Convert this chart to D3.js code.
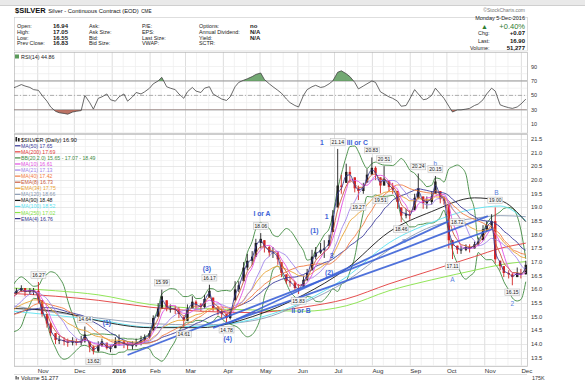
<!DOCTYPE html>
<html><head><meta charset="utf-8">
<script src="https://cdn.jsdelivr.net/npm/d3@7"></script>
<style>body{margin:0;background:#fff}svg{display:block;font-family:"Liberation Sans",Arial,sans-serif}</style>
</head><body><svg id="c" width="585" height="380"></svg>
<script>
// ---------------- DATA ----------------
// half-week bars (Mon & Thu) starting 2015-10-12
const firstMonday = "2015-10-12";
const priorCloses = [14.65,14.75,14.85,15.25,15.45,15.3,15.15,14.65,14.6,14.5,14.6,14.85,15.1,15.05,14.85,14.75,14.95,15.4,15.65,15.85];
const closes = [15.85,15.95,16.05,15.9,15.95,15.95,15.6,15.1,14.75,14.4,14.15,14.15,14.1,14.05,14.1,14.05,14.1,14.35,13.9,13.75,
13.95,14.1,13.85,13.85,14.1,14.1,14.0,13.95,13.95,14.05,14.15,14.25,14.4,14.95,15.3,15.75,15.3,15.3,15.25,15.1,
14.85,15.3,15.55,15.45,15.35,15.65,15.95,15.3,15.2,15.1,14.95,15.15,16.0,16.15,16.8,17.05,17.2,17.7,17.85,17.55,
17.35,17.35,17.1,16.6,16.3,16.25,16.05,16.0,16.35,16.6,17.2,17.35,17.45,17.5,17.8,18.7,19.8,19.75,20.3,20.2,
19.7,19.6,19.75,20.2,20.45,20.25,19.8,20.05,19.75,19.65,19.2,18.7,18.75,18.7,19.35,19.7,19.15,19.2,19.4,19.95,
19.3,19.25,17.8,17.6,17.45,17.45,17.55,17.5,17.65,17.75,18.2,18.35,18.5,17.1,16.85,16.6,16.55,16.45,16.6,16.55,16.9];
const highs = [16.0,16.05,16.15,16.05,16.05,16.05,16.27,15.6,15.1,14.8,14.4,14.3,14.25,14.2,14.25,14.2,14.3,14.64,14.1,13.95,
14.1,14.2,14.05,13.95,14.25,14.35,14.15,14.1,14.1,14.2,14.3,14.35,14.5,15.05,15.5,15.99,15.6,15.45,15.4,15.35,
15.0,15.45,15.75,15.6,15.5,15.8,16.17,15.7,15.4,15.3,15.1,15.3,16.3,16.3,17.0,17.3,17.4,17.85,18.06,17.8,
17.6,17.55,17.4,17.0,16.55,16.45,16.3,16.2,16.5,16.75,17.45,17.55,17.7,17.8,18.0,18.9,21.14,20.2,20.6,20.5,
20.1,19.8,19.9,20.4,20.83,20.5,20.1,20.51,20.0,19.9,19.6,19.0,18.95,18.9,19.5,20.24,19.4,19.4,19.6,20.15,
19.6,19.4,19.1,17.8,17.6,17.6,17.65,17.65,17.75,17.9,18.35,18.5,18.75,19.0,17.05,16.85,16.7,16.6,16.8,16.75,17.05];
const lows = [15.7,15.8,15.9,15.75,15.8,15.8,15.5,15.0,14.6,14.3,14.0,14.0,13.95,13.9,13.95,13.95,13.95,14.05,13.7,13.62,
13.7,13.9,13.8,13.7,13.85,13.95,13.85,13.8,13.8,13.9,13.95,14.05,14.2,14.5,15.0,15.3,15.2,15.15,15.1,14.95,
14.61,14.85,15.3,15.3,15.2,15.3,15.7,15.2,15.05,14.95,14.78,14.9,15.6,15.9,16.3,16.7,16.9,17.2,17.5,17.35,
17.2,17.15,16.9,16.45,16.2,16.1,15.95,15.83,16.1,16.3,16.7,17.1,17.3,17.15,17.6,18.1,19.0,19.5,19.9,19.9,
19.55,19.27,19.5,19.9,20.2,20.0,19.51,19.8,19.6,19.5,18.95,18.46,18.6,18.55,18.9,19.3,18.95,18.95,19.1,19.5,
19.15,19.1,17.5,17.11,17.3,17.3,17.4,17.35,17.5,17.6,17.8,18.1,18.2,16.95,16.7,16.45,16.4,16.15,16.45,16.4,16.55];
const rsiValues = [60,62,65,63,61,58,57,50,42,34, 28,26,25,24,27,28,29,50,40,31, 46,48,52,44,42,48,52,42,48,54,
52,55,60,66,70,75,62,60,58,52, 46,55,61,56,54,60,62,52,48,45, 43,48,62,68,71,73,76,79,81,72,
66,62,57,53,45,40,36,34,50,58, 62,64,61,62,66,70,82,84,80,76, 68,59,63,66,70,68,55,52,48,46,
42,35,36,45,58,52,44,45,50,60, 52,46,35,27,30,30,31,32,36,38, 44,52,60,56,37,35,33,32,34,38, 44.86];

// long moving averages at anchor dates
const anchorDates = ["2015-10-12","2015-11-16","2015-12-21","2016-02-01","2016-03-14","2016-04-25","2016-06-06","2016-07-11","2016-08-15","2016-09-19","2016-10-24","2016-11-14","2016-12-05"];
const ma200 = [15.85,15.75,15.6,15.35,15.2,15.15,15.35,15.65,16.2,16.7,17.2,17.5,17.69];
const ma250 = [16.05,15.95,15.8,15.45,15.3,15.25,15.2,15.4,15.95,16.35,16.7,16.9,17.02];
const ma90  = [15.3,15.2,14.85,14.6,14.6,15.0,15.8,16.75,18.1,18.85,19.35,19.25,18.48];
const ma100 = [15.2,15.05,14.88,14.62,14.65,14.9,15.55,16.45,17.7,18.45,18.95,19.05,18.52];
const ma120 = [15.4,15.15,14.95,14.75,14.7,14.85,15.5,16.3,17.45,18.3,18.6,18.7,18.66];

// trend lines (date, price)
const trendStartDates = ["2016-01-14","2016-03-24","2016-04-05"];
const trendStartValues = [13.6,14.59,14.75];
const trendEndDates = ["2016-11-04","2016-11-08","2016-10-03"];
const trendEndValues = [18.68,18.21,18.5];

// boxed price labels
const labelDates = ["2015-11-02","2015-12-10","2015-12-17","2016-02-11","2016-02-29","2016-03-21","2016-04-04","2016-05-02","2016-06-02","2016-07-04","2016-07-21","2016-08-01","2016-08-08","2016-08-11","2016-08-25","2016-09-08","2016-09-22","2016-10-10","2016-10-06","2016-11-10","2016-11-24"];
const labelValues = [16.27,14.64,13.62,15.99,14.61,16.17,14.78,18.06,15.83,21.14,19.27,20.83,19.51,20.51,18.46,20.24,20.15,18.72,17.11,19.00,16.15];
const labelSides = ["above","above","below","above","below","above","below","above","below","above","below","above","below","above","below","above","above","below","below","above","below"];

// wave annotations
const annoTexts = ["(1)","(3)","(4)","I or A","1","III or C","(1)","1","3","(2)","II or B","a","b","A","B","2"];
const annoDates = ["2015-12-28","2016-03-19","2016-04-05","2016-05-03","2016-06-21","2016-07-20","2016-06-15","2016-06-25","2016-06-29","2016-06-27","2016-06-04","2016-08-27","2016-09-22","2016-10-06","2016-11-11","2016-11-24"];
const annoValues = [14.77,16.78,14.22,18.79,21.36,21.39,18.17,18.65,17.23,16.6,15.24,17.8,20.62,16.38,19.56,15.5];

const priceTicks = [13.5,14.0,14.5,15.0,15.5,16.0,16.5,17.0,17.5,18.0,18.5,19.0,19.5,20.0,20.5,21.0,21.5];
const rsiTicks = [10,30,50,70,90];
const monthLabels = ["Nov","Dec","2016","Feb","Mar","Apr","May","Jun","Jul","Aug","Sep","Oct","Nov","Dec"];
const legendNames = ["MA(50) 17.65","MA(200) 17.69","BB(20,2.0) 15.65 - 17.07 - 18.49","MA(10) 16.61","MA(21) 17.13","MA(40) 17.42","EMA(8) 16.73","EMA(34) 17.75","MA(120) 18.66","MA(90) 18.48","MA(100) 18.52","MA(250) 17.02","EMA(4) 16.76"];

// ---------------- STYLE ----------------
const C = {ma50:"#3b3b9c",ma200:"#e23a3a",bb:"#3f8a3f",ma10:"#e24fe2",ma21:"#a084ea",ma40:"#f27c42",ema8:"#c95a3c",ema34:"#e9a333",ma120:"#8a9ab2",ma90:"#151515",ma100:"#5ae2f0",ma250:"#86e246",ema4:"#38388e"};
const legendColors = [C.ma50,C.ma200,C.bb,C.ma10,C.ma21,C.ma40,C.ema8,C.ema34,C.ma120,C.ma90,C.ma100,C.ma250,C.ema4];
const BLUE = "#3d63d8";

// ---------------- SETUP ----------------
const parse = d3.utcParse("%Y-%m-%d");
const dates = [];
for (let i = 0; i < 61; i++) { const m = d3.utcDay.offset(parse(firstMonday), 7*i); dates.push(m); if (i < 60) dates.push(d3.utcDay.offset(m, 3)); }
const svg = d3.select("#c");
const X0 = 14, X1 = 527;
const x = d3.scaleUtc().domain([parse("2015-10-13"), parse("2016-12-06")]).range([X0, X1]);
const y = d3.scaleLinear().domain([13.5, 21.5]).range([357.7, 139.1]);
const ry = d3.scaleLinear().domain([10, 90]).range([124.3, 66.5]);
const MT = 134, MB = 366, RT = 52, RB = 133;

// indicators from closes (1 point ~ 2.5 trading days)
const PER = 2.5, all = priorCloses.concat(closes), P = priorCloses.length;
function sma(n){ n = Math.round(n/PER); return closes.map((c,i)=>d3.mean(all.slice(Math.max(0,i+P-n+1), i+P+1))); }
function ema(n){ const a = 2/(n/PER+1); let e = all[0]; const out = []; all.forEach((c,j)=>{ e = j===0 ? c : a*c+(1-a)*e; if (j>=P) out.push(e); }); return out; }
function bb(n,k,sign){ n = Math.round(n/PER); return closes.map((c,i)=>{ const s = all.slice(Math.max(0,i+P-n+1), i+P+1); const m = d3.mean(s); const sd = Math.sqrt(d3.mean(s.map(v=>(v-m)*(v-m)))); return m + sign*k*sd; }); }

// ---------------- HEADER ----------------
svg.append("rect").attr("x",0).attr("y",0).attr("width",585).attr("height",5).attr("fill","#e9e9e9");
svg.append("line").attr("x1",0).attr("x2",585).attr("y1",5.5).attr("y2",5.5).attr("stroke","#cfcfcf");
const hdr = svg.append("text").attr("x",15).attr("y",13).attr("fill","#111");
hdr.append("tspan").attr("font-weight","bold").attr("font-size",7.5).text("$SILVER");
hdr.append("tspan").attr("dx",2.5).attr("font-size",5.8).text("Silver - Continuous Contract (EOD)");
hdr.append("tspan").attr("dx",2.5).attr("font-size",4.6).text("CME");
svg.append("text").attr("x",525).attr("y",11.5).attr("text-anchor","end").attr("font-size",5).attr("fill","#777").text("\u00A9StockCharts.com");
svg.append("rect").attr("x",14.5).attr("y",17.5).attr("width",513).attr("height",33.5).attr("fill","none").attr("stroke","#c8c8c8").attr("stroke-width",0.6);
const info = [
 [["Open:",17],["16.94",53,true],["Ask:",89],["P/E:",142],["Options:",199],["no",250,true]],
 [["High:",17],["17.05",53,true],["Ask Size:",89],["EPS:",142],["Annual Dividend:",199],["N/A",250,true]],
 [["Low:",17],["16.55",53,true],["Bid:",89],["Last Size:",142],["Yield:",199],["N/A",250,true]],
 [["Prev Close:",17],["16.83",53,true],["Bid Size:",89],["VWAP:",142],["SCTR:",199]]];
info.forEach((row,r)=>row.forEach(c=>{
  svg.append("text").attr("x",c[1]).attr("y",28+r*5.8).attr("font-size",c[2]?6:5.4).attr("font-weight",c[2]?"bold":"normal").attr("fill","#222").text(c[0]);
}));
svg.append("text").attr("x",525).attr("y",20).attr("text-anchor","end").attr("font-size",5.5).attr("fill","#222").text("Monday  5-Dec-2016");
svg.append("text").attr("x",481).attr("y",28.8).attr("font-size",7).attr("fill","#2f7d2f").text("\u25B2");
svg.append("text").attr("x",525).attr("y",28.8).attr("text-anchor","end").attr("font-size",7.5).attr("fill","#2f7d2f").text("+0.40%");
[["Chg:","+0.07",35.3],["Last:","16.90",42.6],["Volume:","51,277",50]].forEach((r,i)=>{
  svg.append("text").attr("x",i===2?470:478).attr("y",r[2]).attr("font-size",5.4).attr("fill","#222").text(r[0]);
  svg.append("text").attr("x",525).attr("y",r[2]).attr("text-anchor","end").attr("font-size",6).attr("font-weight","bold").attr("fill","#111").text(r[1]);
});

// ---------------- GRID helpers ----------------
const months = d3.utcMonth.range(parse("2015-11-01"), parse("2016-12-06"));
const minorV = [];
d3.utcMonth.range(parse("2015-10-01"), parse("2016-12-06")).forEach(m=>{ [10,20].forEach(d=>minorV.push(d3.utcDay.offset(m,d-1))); });
function vgrid(top,bottom){
  svg.append("g").selectAll("line").data(minorV.filter(d=>x(d)>X0&&x(d)<X1)).join("line")
    .attr("x1",d=>x(d)+0.5).attr("x2",d=>x(d)+0.5).attr("y1",top).attr("y2",bottom).attr("stroke","#ececec").attr("stroke-width",0.7);
  svg.append("g").selectAll("line").data(months).join("line")
    .attr("x1",d=>x(d)+0.5).attr("x2",d=>x(d)+0.5).attr("y1",top).attr("y2",bottom).attr("stroke","#d6d6d6").attr("stroke-width",0.8);
}

// ---------------- RSI PANEL ----------------
vgrid(RT,RB);
svg.append("g").selectAll("line").data(d3.range(10,91,10)).join("line")
  .attr("x1",X0).attr("x2",X1).attr("y1",d=>ry(d)).attr("y2",d=>ry(d)).attr("stroke","#ececec").attr("stroke-width",0.7);
svg.append("rect").attr("x",X0+0.5).attr("y",RT+0.5).attr("width",X1-X0).attr("height",RB-RT).attr("fill","none").attr("stroke","#b8b8b8").attr("stroke-width",0.7);
[70,30].forEach(v=>svg.append("line").attr("x1",X0).attr("x2",X1).attr("y1",ry(v)).attr("y2",ry(v)).attr("stroke","#8a8a8a").attr("stroke-width",0.9));
svg.append("line").attr("x1",X0).attr("x2",X1).attr("y1",ry(50)).attr("y2",ry(50)).attr("stroke","#9a9a9a").attr("stroke-width",0.8).attr("stroke-dasharray","4,2,1,2");
const defs = svg.append("defs");
defs.append("clipPath").attr("id","rsiHi").append("rect").attr("x",X0).attr("y",RT).attr("width",X1-X0).attr("height",ry(70)-RT);
defs.append("clipPath").attr("id","rsiLo").append("rect").attr("x",X0).attr("y",ry(30)).attr("width",X1-X0).attr("height",RB-ry(30));
defs.append("clipPath").attr("id","rsiAll").append("rect").attr("x",X0).attr("y",RT).attr("width",X1-X0).attr("height",RB-RT);
defs.append("clipPath").attr("id","main").append("rect").attr("x",X0).attr("y",MT).attr("width",X1-X0).attr("height",MB-MT);
const rsiData = dates.map((d,i)=>({d, v: rsiValues[i]}));
svg.append("path").datum(rsiData).attr("clip-path","url(#rsiHi)").attr("fill","#5a9a5a").attr("opacity",0.85)
  .attr("d", d3.area().x(p=>x(p.d)).y0(ry(70)).y1(p=>ry(p.v)));
svg.append("path").datum(rsiData).attr("clip-path","url(#rsiLo)").attr("fill","#b05a4a").attr("opacity",0.85)
  .attr("d", d3.area().x(p=>x(p.d)).y0(ry(30)).y1(p=>ry(p.v)));
svg.append("path").datum(rsiData).attr("clip-path","url(#rsiAll)").attr("fill","none").attr("stroke","#444").attr("stroke-width",0.8)
  .attr("d", d3.line().x(p=>x(p.d)).y(p=>ry(p.v)));
rsiTicks.forEach(t=>svg.append("text").attr("x",531).attr("y",ry(t)+2).attr("font-size",5.5).attr("fill","#333").text(t));
svg.append("rect").attr("x",15).attr("y",54.5).attr("width",4).attr("height",4).attr("fill","#5a9a5a");
svg.append("text").attr("x",21).attr("y",59).attr("font-size",5.4).attr("fill","#222").text("RSI(14) 44.86");

// ---------------- MAIN PANEL ----------------
vgrid(MT,MB);
svg.append("g").selectAll("line").data(d3.range(13.25,21.76,0.25)).join("line")
  .attr("x1",X0).attr("x2",X1).attr("y1",d=>Math.round(y(d))+0.5).attr("y2",d=>Math.round(y(d))+0.5)
  .attr("stroke",d=>(Math.round(d*4)%2===0)?"#dedede":"#efefef").attr("stroke-width",0.7);
svg.append("rect").attr("x",X0+0.5).attr("y",MT+0.5).attr("width",X1-X0).attr("height",MB-MT).attr("fill","none").attr("stroke","#b8b8b8").attr("stroke-width",0.7);
priceTicks.forEach(t=>svg.append("text").attr("x",531).attr("y",y(t)+2).attr("font-size",5.8).attr("fill","#333").text(t.toFixed(1)));
monthLabels.forEach((m,i)=>svg.append("text").attr("x",x(months[i])+0.5).attr("y",372.5).attr("font-size",6.2)
  .attr("font-weight",m==="2016"?"bold":"normal").attr("fill","#333").text(m));

const g = svg.append("g").attr("clip-path","url(#main)");
const lineGen = d3.line().x(p=>x(p.d)).y(p=>y(p.v)).curve(d3.curveMonotoneX);
function drawSeries(vals, ds, color, w){ g.append("path").datum(vals.map((v,i)=>({d:ds[i], v}))).attr("fill","none").attr("stroke",color).attr("stroke-width",w||0.9).attr("d",lineGen); }
const aDates = anchorDates.map(parse);

// bollinger bands
drawSeries(bb(20,2,1), dates, C.bb, 0.9);
drawSeries(bb(20,2,-1), dates, C.bb, 0.9);
// long MAs
drawSeries(ma250, aDates, C.ma250);
drawSeries(ma200, aDates, C.ma200);
drawSeries(ma120, aDates, C.ma120);
drawSeries(ma100, aDates, C.ma100);
drawSeries(ma90, aDates, C.ma90);
// price bars
const opens = closes.map((c,i)=> i===0 ? priorCloses[P-1] : closes[i-1]);
dates.forEach((d,i)=>{
  const cx = x(d), up = closes[i] >= opens[i], col = up ? "#1e1e1e" : "#d42424";
  g.append("line").attr("x1",cx).attr("x2",cx).attr("y1",y(highs[i])).attr("y2",y(lows[i])).attr("stroke",col).attr("stroke-width",0.9);
  const top = Math.min(highs[i], Math.max(opens[i],closes[i])), bot = Math.max(lows[i], Math.min(opens[i],closes[i]));
  g.append("rect").attr("x",cx-1.2).attr("width",2.4).attr("y",y(top)).attr("height",Math.max(0.8,y(bot)-y(top))).attr("fill",col);
});
// medium / short MAs
drawSeries(sma(50), dates, C.ma50);
drawSeries(sma(40), dates, C.ma40);
drawSeries(ema(34), dates, C.ema34);
drawSeries(sma(21), dates, C.ma21);
drawSeries(sma(10), dates, C.ma10);
drawSeries(ema(8), dates, C.ema8);
drawSeries(ema(4), dates, C.ema4);
// trend lines
trendStartDates.forEach((sd,i)=>{
  g.append("line").attr("x1",x(parse(sd))).attr("y1",y(trendStartValues[i])).attr("x2",x(parse(trendEndDates[i]))).attr("y2",y(trendEndValues[i]))
   .attr("stroke",BLUE).attr("stroke-width",1.8).attr("opacity",0.9);
});
// wave annotations
annoTexts.forEach((t,i)=>{
  const small = t.length===1 && /[abAB2]/.test(t);
  svg.append("text").attr("x",x(parse(annoDates[i]))).attr("y",y(annoValues[i])+2.5).attr("text-anchor","middle")
    .attr("font-size",small?6.5:6.8).attr("font-weight",small?"normal":"bold").attr("fill",small?"#5b7fe0":BLUE).text(t);
});
// price labels
labelDates.forEach((ld,i)=>{
  const cx = x(parse(ld)), cy = y(labelValues[i]) + (labelSides[i]==="above" ? -7 : 7);
  const lg = svg.append("g");
  const tx = lg.append("text").attr("x",cx).attr("y",cy+1.8).attr("text-anchor","middle").attr("font-size",5).attr("fill","#222").text(labelValues[i].toFixed(2));
  const w = tx.node().getComputedTextLength();
  lg.insert("rect","text").attr("x",cx-w/2-1.2).attr("y",cy-3.3).attr("width",w+2.4).attr("height",6.6).attr("fill","#f6f6f6").attr("stroke","#b5b5b5").attr("stroke-width",0.5);
});

// legend
const lgTop = 141;
svg.append("rect").attr("x",15.5).attr("y",lgTop-4).attr("width",1.6).attr("height",4.5).attr("fill","#222");
svg.append("rect").attr("x",18).attr("y",lgTop-3).attr("width",1.6).attr("height",3.5).attr("fill","#222");
svg.append("text").attr("x",21).attr("y",lgTop+0.8).attr("font-size",5.6).attr("fill","#111").text("$SILVER (Daily) 16.90");
legendNames.forEach((n,i)=>{
  const yy = lgTop + 6.07*(i+1);
  svg.append("line").attr("x1",15).attr("x2",20.5).attr("y1",yy-1.3).attr("y2",yy-1.3).attr("stroke",legendColors[i]).attr("stroke-width",1.2);
  svg.append("text").attr("x",21).attr("y",yy+0.7).attr("font-size",5.2).attr("fill",legendColors[i]).text(n);
});

// volume strip
svg.append("line").attr("x1",X0).attr("x2",X1).attr("y1",374.5).attr("y2",374.5).attr("stroke","#c8c8c8").attr("stroke-width",0.6);
svg.append("rect").attr("x",15.5).attr("y",376).attr("width",1.2).attr("height",3.5).attr("fill","#444");
svg.append("rect").attr("x",17.5).attr("y",377).attr("width",1.2).attr("height",2.5).attr("fill","#444");
svg.append("text").attr("x",21).attr("y",380).attr("font-size",5.6).attr("fill","#222").text("Volume 51,277");
svg.append("text").attr("x",532).attr("y",379.5).attr("font-size",5.4).attr("fill","#333").text("175K");
</script></body></html>
